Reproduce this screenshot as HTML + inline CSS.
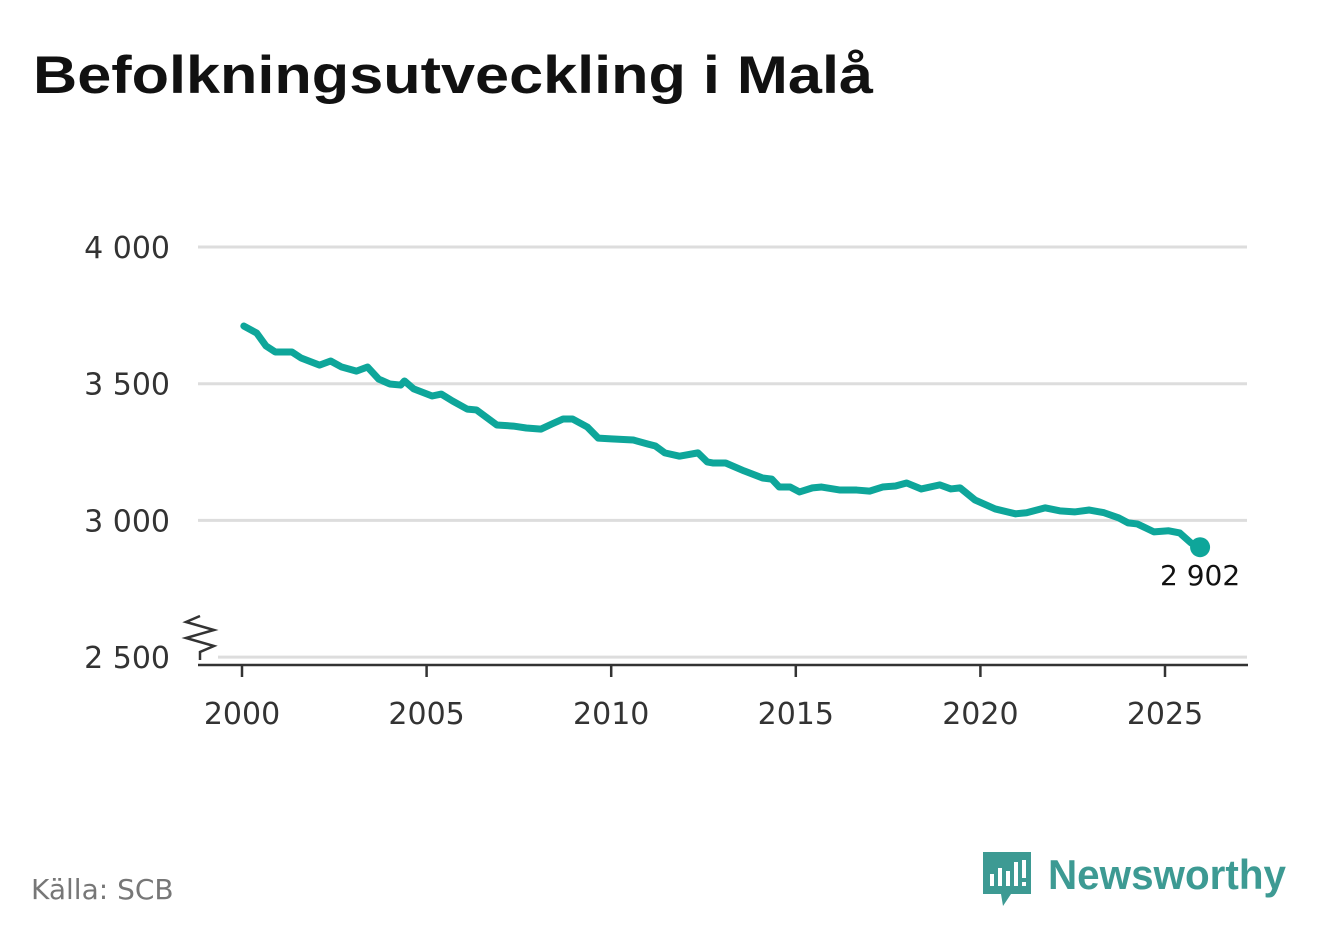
<!DOCTYPE html>
<html><head><meta charset="utf-8"><style>
body{margin:0;background:#fff;font-family:"Liberation Sans",sans-serif;}
#c{position:relative;width:1322px;height:939px;overflow:hidden;}
</style></head><body>
<div id="c">
<svg width="1322" height="939">
<text x="33" y="93" font-size="53" font-weight="bold" fill="#111" textLength="840" lengthAdjust="spacingAndGlyphs" font-family="Liberation Sans, sans-serif">Befolkningsutveckling i Malå</text>
<g id="grid"></g>
<g id="yl"></g>
<g id="xl"></g>
<line x1="198" y1="665" x2="1248" y2="665" stroke="#333" stroke-width="2.5"/>
<polyline points="200,616 186,622 214,630 186,638 214,646 200,652 200,660" fill="none" stroke="#333" stroke-width="2.5"/>
<polyline id="line" fill="none" stroke="#0ea69a" stroke-width="7" stroke-linejoin="round" stroke-linecap="round"/>
<circle id="dot" r="10" fill="#0ea69a"/>
<text id="lbl" font-size="28" fill="#111" text-anchor="middle" font-family="DejaVu Sans, sans-serif"></text>
<text x="31" y="899" font-size="28" fill="#777" font-family="DejaVu Sans, sans-serif">Källa: SCB</text>
<g>
<path d="M983,852 h48 v42 h-20 l-8,12 l-2,-12 h-18 z" fill="#3d9a93"/>
<rect x="990" y="874" width="4" height="12" fill="#fff"/><rect x="998" y="868" width="4" height="18" fill="#fff"/><rect x="1006" y="871" width="4" height="15" fill="#fff"/><rect x="1014" y="862" width="4" height="24" fill="#fff"/><rect x="1022" y="860" width="4" height="18" fill="#fff"/><rect x="1022" y="882" width="4" height="4" fill="#fff"/>
<text x="1048" y="889" font-size="42" font-weight="bold" fill="#3d9a93" textLength="238" lengthAdjust="spacingAndGlyphs" font-family="Liberation Sans, sans-serif">Newsworthy</text>
</g>
</svg>
</div>
<script>
const years=[2000.05,2000.4,2000.65,2000.9,2001.35,2001.6,2002.1,2002.4,2002.7,2003.1,2003.4,2003.7,2004.0,2004.3,2004.4,2004.65,2005.15,2005.4,2005.7,2006.1,2006.35,2006.9,2007.35,2007.7,2008.1,2008.4,2008.7,2008.95,2009.35,2009.65,2010.0,2010.6,2011.0,2011.2,2011.45,2011.85,2012.35,2012.6,2012.75,2013.1,2013.6,2014.1,2014.35,2014.55,2014.85,2015.1,2015.45,2015.7,2016.2,2016.65,2017.0,2017.35,2017.7,2018.0,2018.4,2018.9,2019.2,2019.45,2019.85,2020.4,2020.95,2021.25,2021.75,2022.15,2022.55,2022.95,2023.35,2023.75,2024.0,2024.25,2024.7,2025.1,2025.4,2025.7,2025.95];
const values=[3711,3685,3638,3616,3616,3594,3568,3583,3561,3546,3561,3517,3499,3495,3510,3481,3455,3462,3437,3407,3404,3349,3345,3338,3334,3353,3371,3371,3342,3301,3298,3294,3279,3272,3247,3235,3247,3214,3210,3210,3181,3155,3151,3122,3122,3104,3119,3122,3111,3111,3107,3122,3126,3137,3115,3130,3115,3119,3075,3042,3024,3028,3046,3035,3031,3038,3028,3009,2991,2987,2958,2962,2954,2918,2902];
const yTicks=[4000,3500,3000,2500];
const yTickLabels=["4 000","3 500","3 000","2 500"];
const xTicks=[2000,2005,2010,2015,2020,2025];
const lastLabel="2 902";
const NS="http://www.w3.org/2000/svg";
const X=v=>242+(v-2000)*36.92;
const Y=v=>247+(4000-v)*136.7/500;
const grid=document.getElementById('grid'),yl=document.getElementById('yl'),xl=document.getElementById('xl');
yTicks.forEach((t,i)=>{
 const l=document.createElementNS(NS,'line');
 l.setAttribute('x1',t>2500?198:218);l.setAttribute('x2',1247);l.setAttribute('y1',Y(t));l.setAttribute('y2',Y(t));
 l.setAttribute('stroke','#ddd');l.setAttribute('stroke-width','3');
 
 
 grid.appendChild(l);
 const tx=document.createElementNS(NS,'text');
 tx.setAttribute('x',170);tx.setAttribute('y',Y(t)+11);tx.setAttribute('text-anchor','end');
 tx.setAttribute('font-size','30');tx.setAttribute('fill','#333');tx.setAttribute('font-family','DejaVu Sans, sans-serif');
 tx.textContent=yTickLabels[i];
 
 
 yl.appendChild(tx);
});
xTicks.forEach(t=>{
 const l=document.createElementNS(NS,'line');
 l.setAttribute('x1',X(t));l.setAttribute('x2',X(t));l.setAttribute('y1',665);l.setAttribute('y2',677);
 l.setAttribute('stroke','#333');l.setAttribute('stroke-width','2.5');
 
 
 xl.appendChild(l);
 const tx=document.createElementNS(NS,'text');
 tx.setAttribute('x',X(t));tx.setAttribute('y',724);tx.setAttribute('text-anchor','middle');
 tx.setAttribute('font-size','30');tx.setAttribute('fill','#333');tx.setAttribute('font-family','DejaVu Sans, sans-serif');
 tx.textContent=t;
 
 
 xl.appendChild(tx);
});
document.getElementById('line').setAttribute('points',years.map((y,i)=>X(y)+','+Y(values[i])).join(' '));
const n=years.length-1,d=document.getElementById('dot');
d.setAttribute('cx',X(years[n]));d.setAttribute('cy',Y(values[n]));
const lb=document.getElementById('lbl');
lb.setAttribute('x',X(years[n]));lb.setAttribute('y',Y(values[n])+38);lb.textContent=lastLabel;
</script>
</body></html>
